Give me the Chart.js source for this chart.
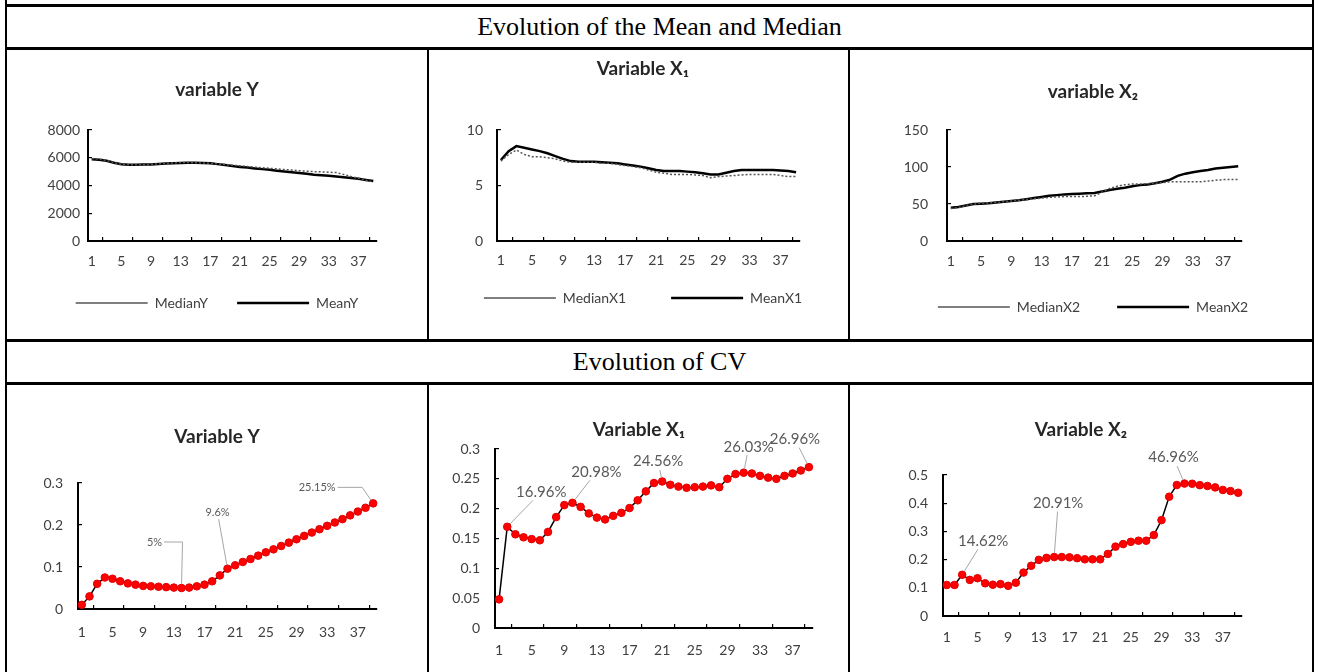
<!DOCTYPE html>
<html>
<head>
<meta charset="utf-8">
<script src="https://cdn.jsdelivr.net/npm/chart.js@4.4.1/dist/chart.umd.min.js"></script>
<style>
  body { margin: 0; width: 1318px; height: 672px; position: relative; background: #fff; overflow: hidden; }
  canvas { position: absolute; }
  .hl { position: absolute; background: #000; height: 3px; z-index: 2; }
  .vl { position: absolute; background: #000; width: 2px; z-index: 2; }
  .hdr { position: absolute; left: 7px; width: 1305px; text-align: center; font-family: "Liberation Serif", "Times New Roman", serif; font-size: 26px; color: #000; }
</style>
</head>
<body>
<canvas id="meanY"></canvas>
<canvas id="meanX1"></canvas>
<canvas id="meanX2"></canvas>
<canvas id="cvY"></canvas>
<canvas id="cvX1"></canvas>
<canvas id="cvX2"></canvas>

<div class="hdr" style="top:6px;height:41px;line-height:41px">Evolution of the Mean and Median</div>
<div class="hdr" style="top:341px;height:41px;line-height:41px">Evolution of CV</div>

<div class="vl" style="left:5px;top:0;height:672px"></div>
<div class="vl" style="left:1312px;top:0;height:672px"></div>
<div class="vl" style="left:427px;top:48px;height:292px"></div>
<div class="vl" style="left:848px;top:48px;height:292px"></div>
<div class="vl" style="left:427px;top:383px;height:289px"></div>
<div class="vl" style="left:848px;top:383px;height:289px"></div>
<div class="hl" style="left:5px;top:4px;width:1309px"></div>
<div class="hl" style="left:5px;top:47px;width:1309px"></div>
<div class="hl" style="left:5px;top:339px;width:1309px"></div>
<div class="hl" style="left:5px;top:382px;width:1309px"></div>

<script>
// categories (sample steps) and the ones that carry a label on the x axis
const categories = ['1','2','3','4','5','6','7','8','9','10','11','12','13','14','15','16','17','18','19','20',
  '21','22','23','24','25','26','27','28','29','30','31','32','33','34','35','36','37','38','39'];
const axisLabels = ['1','5','9','13','17','21','25','29','33','37'];

// mean / median
const medianY = [5950,5900,5800,5650,5530,5500,5480,5500,5530,5560,
  5600,5620,5650,5650,5640,5620,5590,5560,5510,5460,
  5420,5370,5320,5280,5240,5200,5150,5110,5070,5030,
  5000,4980,4960,4930,4800,4650,4520,4380,4250];
const meanY = [5900,5850,5780,5640,5530,5500,5500,5510,5520,5550,
  5580,5610,5630,5640,5640,5630,5600,5540,5470,5400,
  5340,5290,5230,5180,5130,5070,5010,4960,4900,4840,
  4780,4740,4700,4650,4600,4540,4480,4400,4320];
const medianX1 = [7.2,7.8,8.2,7.8,7.6,7.6,7.5,7.4,7.2,7.1,
  7.1,7.1,7.1,7.0,7.0,6.9,6.8,6.7,6.6,6.4,
  6.2,6.1,6.0,6.0,6.0,5.95,5.9,5.7,5.8,5.85,
  5.9,5.95,6.0,6.0,6.0,6.0,5.9,5.8,5.8];
const meanX1 = [7.3,8.1,8.55,8.4,8.25,8.1,7.9,7.65,7.4,7.2,
  7.15,7.15,7.15,7.1,7.05,7.0,6.9,6.8,6.7,6.55,
  6.4,6.3,6.3,6.3,6.25,6.2,6.1,6.0,6.0,6.15,
  6.3,6.4,6.4,6.4,6.4,6.4,6.35,6.3,6.2];
const medianX2 = [44,45,48,50,51,51.5,52,53,54,55,
  56,57,58,59,59.5,60,60,60,60.5,61,
  66,71,74,76,77,77,77.5,78,79,80,
  80,80,80,80,81,82,83,83,83];
const meanX2 = [45,46,48,50,50.5,51,52,53,54,55,
  56.5,58,59.5,61,62,63,63.5,64,64.5,65,
  67,69,70.5,72,74,75.5,76.5,78,80,83,
  88,91,93,94.5,96,98,99,100,101];

// coefficient of variation
const cvY = [0.010,0.030,0.060,0.075,0.072,0.066,0.061,0.058,0.055,0.054,
  0.053,0.052,0.051,0.050,0.051,0.054,0.058,0.066,0.080,0.096,
  0.104,0.112,0.119,0.127,0.135,0.142,0.150,0.158,0.166,0.174,
  0.182,0.190,0.198,0.206,0.214,0.223,0.232,0.241,0.2515];
const cvX1 = [0.048,0.1696,0.157,0.152,0.149,0.147,0.161,0.186,0.206,0.2098,
  0.203,0.192,0.185,0.182,0.188,0.193,0.201,0.214,0.229,0.243,
  0.2456,0.240,0.237,0.235,0.236,0.237,0.239,0.236,0.250,0.258,
  0.2603,0.259,0.255,0.252,0.250,0.255,0.259,0.264,0.2696];
const cvX2 = [0.110,0.110,0.1462,0.128,0.134,0.116,0.111,0.113,0.107,0.118,
  0.154,0.178,0.199,0.206,0.2091,0.209,0.208,0.205,0.201,0.201,
  0.201,0.220,0.246,0.255,0.263,0.267,0.267,0.287,0.340,0.423,
  0.4645,0.4696,0.469,0.464,0.461,0.456,0.447,0.443,0.437];

// steps that carry a percentage label
const cvYMarked = [14, 20, 39];
const cvX1Marked = [2, 10, 21, 31, 39];
const cvX2Marked = [3, 15, 32];

Chart.defaults.font.family = "Lato, 'Open Sans', sans-serif";
Chart.defaults.color = '#404040';

function pctText(v) {
  return parseFloat((v * 100).toFixed(2)) + '%';
}

// percentage labels with grey leader lines, like the excel callouts
const leaderLabels = {
  id: 'leaderLabels',
  afterDatasetsDraw(chart, args, opts) {
    const marks = opts.marks || [];
    if (!marks.length) return;
    const meta = chart.getDatasetMeta(0);
    const values = chart.data.datasets[0].data;
    const ctx = chart.ctx;
    ctx.save();
    ctx.font = opts.size + "px Lato, 'Open Sans', sans-serif";
    ctx.textAlign = 'center';
    ctx.textBaseline = 'middle';
    marks.forEach((n, k) => {
      const pt = meta.data[n - 1];
      const off = opts.offsets[k];
      const text = pctText(values[n - 1]);
      const lx = pt.x + off.dx, ly = pt.y + off.dy;
      const hw = ctx.measureText(text).width / 2 + 2, hh = opts.size / 2 + 1;
      ctx.strokeStyle = '#a6a6a6';
      ctx.lineWidth = 1;
      ctx.beginPath();
      if (off.elbow !== undefined) {
        const ex = pt.x + off.elbow;
        ctx.moveTo(lx + hw, ly);
        ctx.lineTo(ex, ly);
        const vx = pt.x - ex, vy = pt.y - ly, len = Math.hypot(vx, vy);
        ctx.lineTo(pt.x - vx * 4 / len, pt.y - vy * 4 / len);
      } else {
        const vx = pt.x - lx, vy = pt.y - ly, len = Math.hypot(vx, vy);
        const t = Math.min(vx ? hw / Math.abs(vx) : Infinity, vy ? hh / Math.abs(vy) : Infinity);
        const t2 = 1 - 4 / len;
        if (t < t2) {
          ctx.moveTo(lx + vx * t, ly + vy * t);
          ctx.lineTo(lx + vx * t2, ly + vy * t2);
        }
      }
      ctx.stroke();
      ctx.fillStyle = '#595959';
      ctx.fillText(text, lx, ly);
    });
    ctx.restore();
  }
};

// axis boxes are sized by hand, so their tick labels must not be clipped to them
function noLabelClip(s) {
  s._computeLabelArea = () => undefined;
}

function buildChart(id, g, datasets, yMax, yStep, labelOpts) {
  const cv = document.getElementById(id);
  cv.width = g.w; cv.height = g.h;
  cv.style.left = g.x + 'px'; cv.style.top = g.y + 'px';
  cv.style.width = g.w + 'px'; cv.style.height = g.h + 'px';

  // canvas is centred on the title, left axis and a blank right box fix the plot edges
  const yw = g.plotL - g.x;
  const rw = g.x + g.w - g.plotR;
  const tLine = g.titleSize * 1.2;
  const hasLegend = g.legendY !== undefined;
  const padB = hasLegend ? g.y + g.h - g.legendY - 10 - g.legendSize / 2 : 0;
  const legendH = hasLegend ? g.legendSize + g.legendGap + 10 : 0;
  const xh = g.y + g.h - padB - legendH - g.plotB;

  return new Chart(cv, {
    type: 'line',
    data: { labels: categories, datasets: datasets },
    plugins: [leaderLabels],
    options: {
      responsive: false,
      animation: false,
      devicePixelRatio: 1,
      layout: {
        padding: { left: 0, right: 0, top: g.titleY - g.y - tLine / 2, bottom: padB }
      },
      scales: {
        x: {
          offset: true,
          grid: {
            offset: true,
            drawOnChartArea: false,
            tickLength: -4,
            lineWidth: 1.2,
            tickColor: c => (c.index % 4 === 2 ? '#000' : 'rgba(0,0,0,0)')
          },
          border: { color: '#000', width: 2 },
          ticks: {
            autoSkip: false,
            maxRotation: 0,
            padding: g.xLabY - g.plotB + 4 - 0.6 * g.tickSize,
            font: { size: g.tickSize },
            color: '#404040',
            callback: (v, i) => (axisLabels.includes(categories[i]) ? categories[i] : '')
          },
          afterFit: s => { s.height = xh; noLabelClip(s); }
        },
        y: {
          min: 0,
          max: yMax,
          grid: { drawOnChartArea: false, tickLength: -4, lineWidth: 1.2, color: '#000' },
          border: { color: '#000', width: 2 },
          ticks: {
            stepSize: yStep,
            padding: g.plotL + 4 - g.yLabR,
            font: { size: g.tickSize },
            color: '#404040',
            callback: v => String(Number(v.toFixed(2)))
          },
          afterFit: s => { s.width = yw; noLabelClip(s); }
        },
        spacer: {
          position: 'right',
          grid: { display: false },
          border: { display: false },
          ticks: { display: false },
          afterFit: s => { s.width = rw; }
        }
      },
      plugins: {
        title: {
          display: true,
          text: g.title,
          color: '#262626',
          font: { size: g.titleSize, weight: 'bold' },
          padding: { top: 0, bottom: g.plotT - g.titleY - tLine / 2 }
        },
        legend: hasLegend ? {
          display: true,
          position: 'bottom',
          labels: {
            usePointStyle: true,
            pointStyle: 'line',
            pointStyleWidth: 72,
            boxHeight: 6,
            padding: g.legendGap,
            color: '#404040',
            font: { size: g.legendSize }
          }
        } : { display: false },
        tooltip: { enabled: false },
        leaderLabels: labelOpts || {}
      }
    }
  });
}

function meanMedianSets(median, mean, medName, meanName) {
  return [
    { label: medName, data: median, borderColor: '#555', borderWidth: 1.5, borderDash: [2, 2],
      pointRadius: 0, tension: 0, fill: false },
    { label: meanName, data: mean, borderColor: '#000', borderWidth: 2.5,
      pointRadius: 0, tension: 0, fill: false }
  ];
}

function cvSet(values) {
  return [{
    label: 'CV', data: values, borderColor: '#000', borderWidth: 1.5, tension: 0, fill: false,
    pointRadius: 3.8, pointBackgroundColor: '#ff0000', pointBorderColor: '#e00000', pointBorderWidth: 1,
    clip: false
  }];
}

const topRow = { y: 50, h: 289, plotT: 130, plotB: 241, titleSize: 19, tickSize: 14, legendSize: 14 };
const botRow = { y: 385, h: 287, titleSize: 19, tickSize: 14 };

buildChart('meanY', Object.assign({}, topRow, {
  x: 8, w: 418, plotL: 88, plotR: 377, titleY: 90, title: 'variable Y',
  legendY: 303, legendGap: 29, xLabY: 261, yLabR: 80
}), meanMedianSets(medianY, meanY, 'MedianY', 'MeanY'), 8000, 2000);

buildChart('meanX1', Object.assign({}, topRow, {
  x: 428, w: 430, plotL: 497, plotR: 800, titleY: 69, title: 'Variable X₁',
  legendY: 298, legendGap: 45, xLabY: 260, yLabR: 483
}), meanMedianSets(medianX1, meanX1, 'MedianX1', 'MeanX1'), 10, 5);

buildChart('meanX2', Object.assign({}, topRow, {
  x: 870, w: 446, plotL: 947, plotR: 1242, titleY: 92, title: 'variable X₂',
  legendY: 307, legendGap: 37, xLabY: 261, yLabR: 928
}), meanMedianSets(medianX2, meanX2, 'MedianX2', 'MeanX2'), 150, 50);

buildChart('cvY', Object.assign({}, botRow, {
  x: 8, w: 418, plotL: 78, plotR: 377, plotT: 483, plotB: 609, titleY: 437,
  title: 'Variable Y', xLabY: 632, yLabR: 63
}), cvSet(cvY), 0.3, 0.1, {
  marks: cvYMarked, size: 11,
  offsets: [{ dx: -27, dy: -46, elbow: 1 }, { dx: -10, dy: -56 }, { dx: -56, dy: -16, elbow: -11 }]
});

buildChart('cvX1', Object.assign({}, botRow, {
  x: 430, w: 418, plotL: 495, plotR: 813, plotT: 449, plotB: 628, titleY: 430,
  title: 'Variable X₁', xLabY: 650, yLabR: 480
}), cvSet(cvX1), 0.3, 0.05, {
  marks: cvX1Marked, size: 15,
  offsets: [{ dx: 34, dy: -35 }, { dx: 24, dy: -31 }, { dx: -4, dy: -20 }, { dx: 5, dy: -26 }, { dx: -14, dy: -28 }]
});

buildChart('cvX2', Object.assign({}, botRow, {
  x: 851, w: 460, plotL: 943, plotR: 1242, plotT: 475, plotB: 616, titleY: 430,
  title: 'Variable X₂', xLabY: 637, yLabR: 928
}), cvSet(cvX2), 0.5, 0.1, {
  marks: cvX2Marked, size: 15,
  offsets: [{ dx: 21, dy: -34 }, { dx: 4, dy: -54 }, { dx: -11, dy: -26 }]
});
</script>
</body>
</html>
